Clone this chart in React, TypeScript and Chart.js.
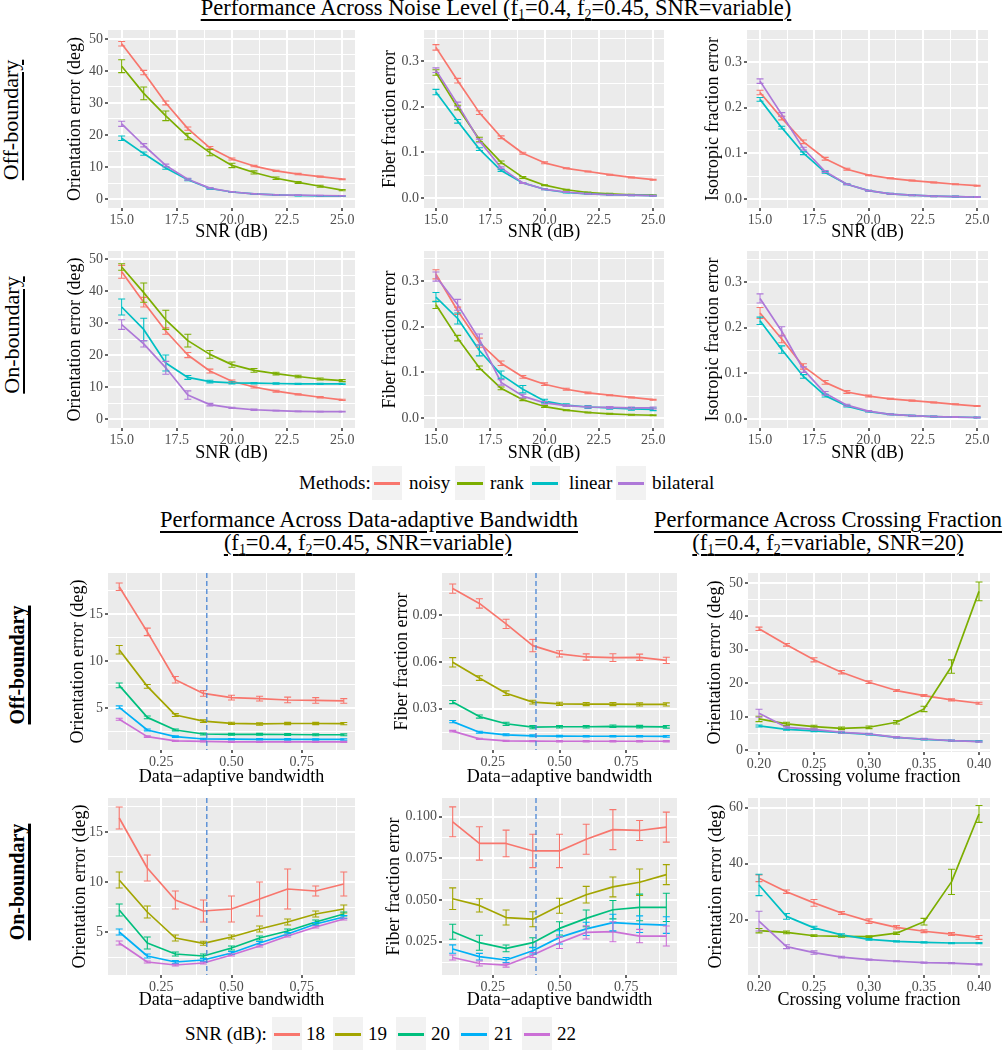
import React, { useEffect, useRef } from "react";
import { Chart, registerables } from "chart.js";
Chart.register(...registerables);

const SERIF = '"Liberation Serif", "DejaVu Serif", serif';

// ---------- x values ----------
const snrLevels = [15, 16, 17, 18, 19, 20, 21, 22, 23, 24, 25];
const bandwidths = [0.1, 0.2, 0.3, 0.4, 0.5, 0.6, 0.7, 0.8, 0.9];
const crossingFractions = [0.2, 0.225, 0.25, 0.275, 0.3, 0.325, 0.35, 0.375, 0.4];

// ---------- legends ----------
const methodNames = ["noisy", "rank", "linear", "bilateral"];
const methodColors = ["#F8766D", "#7CAE00", "#00BFC4", "#AE78D8"];
const snrNames = ["18", "19", "20", "21", "22"];
const snrColors = ["#F8766D", "#A3A500", "#00BF7D", "#00B0F6", "#CB6FD6"];
const bandwidthChoice = 0.412;

// ---------- tick breaks ----------
const snrMajor = [15, 17.5, 20, 22.5, 25];
const snrMinor = [16.25, 18.75, 21.25, 23.75];
const bwMajor = [0.25, 0.5, 0.75];
const bwMinor = [0.125, 0.375, 0.625, 0.875];
const cfMajor = [0.2, 0.25, 0.3, 0.35, 0.4];
const cfMinor = [0.225, 0.275, 0.325, 0.375];
const oriMajor = [0, 10, 20, 30, 40, 50];
const oriMinor = [5, 15, 25, 35, 45];
const fracMajor = [0, 0.1, 0.2, 0.3];
const fracMinor = [0.05, 0.15, 0.25, 0.35];
const bwOriMajor = [5, 10, 15];
const bwOriMinor = [2.5, 7.5, 12.5, 17.5];
const bwFibOffMajor = [0.03, 0.06, 0.09];
const bwFibOffMinor = [0.015, 0.045, 0.075, 0.105];
const bwFibOnMajor = [0.025, 0.05, 0.075, 0.1];
const bwFibOnMinor = [0.0125, 0.0375, 0.0625, 0.0875];
const cfOnMajor = [20, 40, 60];
const cfOnMinor = [10, 30, 50];

// ---------- Noise level: off-boundary ----------
const offOriNoisy = [48.5, 39.5, 30.0, 22.0, 16.0, 12.5, 10.3, 8.8, 7.8, 7.0, 6.2];
const offOriNoisyErr = [0.7, 0.7, 0.6, 0.5, 0.4, 0.3, 0.2, 0.2, 0.2, 0.15, 0.15];
const offOriRank = [41.5, 33.0, 26.0, 19.5, 14.5, 10.5, 8.3, 6.5, 5.2, 4.0, 2.8];
const offOriRankErr = [2.0, 2.0, 1.5, 1.0, 1.0, 0.7, 0.5, 0.4, 0.3, 0.3, 0.2];
const offOriLinear = [19.0, 14.2, 9.7, 6.0, 3.3, 2.2, 1.6, 1.3, 1.1, 1.0, 0.9];
const offOriLinearErr = [0.7, 0.5, 0.4, 0.3, 0.2, 0.1, 0.1, 0.1, 0.1, 0.1, 0.1];
const offOriBilateral = [23.5, 16.8, 10.5, 6.2, 3.4, 2.2, 1.6, 1.3, 1.2, 1.1, 1.0];
const offOriBilateralErr = [0.8, 0.5, 0.4, 0.3, 0.2, 0.1, 0.1, 0.1, 0.1, 0.1, 0.1];

const offFibNoisy = [0.33, 0.257, 0.187, 0.133, 0.098, 0.077, 0.065, 0.058, 0.051, 0.045, 0.04];
const offFibNoisyErr = [0.006, 0.005, 0.004, 0.003, 0.002, 0.002, 0.001, 0.001, 0.001, 0.001, 0.001];
const offFibRank = [0.275, 0.198, 0.128, 0.078, 0.045, 0.028, 0.018, 0.012, 0.009, 0.007, 0.006];
const offFibRankErr = [0.006, 0.005, 0.005, 0.003, 0.002, 0.001, 0.001, 0.001, 0.001, 0.001, 0.001];
const offFibLinear = [0.232, 0.168, 0.107, 0.06, 0.033, 0.019, 0.012, 0.009, 0.007, 0.006, 0.005];
const offFibLinearErr = [0.006, 0.004, 0.003, 0.002, 0.001, 0.001, 0.001, 0.001, 0.001, 0.001, 0.001];
const offFibBilateral = [0.28, 0.205, 0.125, 0.066, 0.033, 0.019, 0.013, 0.009, 0.007, 0.006, 0.005];
const offFibBilateralErr = [0.005, 0.005, 0.004, 0.002, 0.001, 0.001, 0.001, 0.001, 0.001, 0.001, 0.001];

const offIsoNoisy = [0.233, 0.177, 0.125, 0.088, 0.065, 0.052, 0.045, 0.04, 0.036, 0.032, 0.029];
const offIsoNoisyErr = [0.005, 0.004, 0.004, 0.003, 0.002, 0.001, 0.001, 0.001, 0.001, 0.001, 0.001];
const offIsoLinear = [0.218, 0.156, 0.1, 0.058, 0.032, 0.018, 0.011, 0.008, 0.006, 0.005, 0.004];
const offIsoLinearErr = [0.004, 0.003, 0.003, 0.002, 0.001, 0.001, 0.001, 0.001, 0.001, 0.001, 0.001];
const offIsoBilateral = [0.258, 0.185, 0.11, 0.06, 0.032, 0.018, 0.011, 0.008, 0.006, 0.005, 0.004];
const offIsoBilateralErr = [0.005, 0.004, 0.003, 0.002, 0.001, 0.001, 0.001, 0.001, 0.001, 0.001, 0.001];

// ---------- Noise level: on-boundary ----------
const onOriNoisy = [46.0, 36.5, 27.5, 20.0, 15.0, 11.8, 10.0, 8.7, 7.7, 6.8, 6.0];
const onOriNoisyErr = [2.0, 1.5, 1.0, 0.8, 0.6, 0.4, 0.3, 0.3, 0.2, 0.2, 0.2];
const onOriRank = [47.5, 39.5, 31.0, 24.5, 20.2, 17.0, 15.2, 14.2, 13.3, 12.5, 12.0];
const onOriRankErr = [1.0, 3.0, 3.0, 2.0, 1.2, 0.8, 0.6, 0.4, 0.4, 0.3, 0.3];
const onOriLinear = [35.0, 28.0, 17.5, 13.0, 11.7, 11.3, 11.2, 11.1, 11.0, 11.0, 11.0];
const onOriLinearErr = [2.5, 3.5, 2.5, 0.6, 0.4, 0.3, 0.2, 0.2, 0.2, 0.2, 0.2];
const onOriBilateral = [29.5, 23.5, 16.0, 7.5, 4.5, 3.5, 2.9, 2.6, 2.4, 2.3, 2.3];
const onOriBilateralErr = [1.5, 1.0, 2.0, 1.3, 0.4, 0.2, 0.2, 0.1, 0.1, 0.1, 0.1];

const onFibNoisy = [0.315, 0.235, 0.165, 0.12, 0.09, 0.074, 0.063, 0.055, 0.05, 0.045, 0.04];
const onFibNoisyErr = [0.01, 0.008, 0.01, 0.005, 0.003, 0.003, 0.002, 0.002, 0.001, 0.001, 0.001];
const onFibRank = [0.248, 0.175, 0.11, 0.065, 0.04, 0.025, 0.017, 0.012, 0.009, 0.007, 0.006];
const onFibRankErr = [0.008, 0.006, 0.004, 0.003, 0.002, 0.002, 0.001, 0.001, 0.001, 0.001, 0.001];
const onFibLinear = [0.265, 0.218, 0.148, 0.095, 0.063, 0.037, 0.028, 0.024, 0.022, 0.02, 0.019];
const onFibLinearErr = [0.01, 0.012, 0.012, 0.008, 0.008, 0.004, 0.003, 0.003, 0.003, 0.003, 0.003];
const onFibBilateral = [0.31, 0.248, 0.172, 0.078, 0.048, 0.033, 0.027, 0.024, 0.023, 0.022, 0.022];
const onFibBilateralErr = [0.01, 0.012, 0.012, 0.006, 0.004, 0.003, 0.002, 0.002, 0.002, 0.002, 0.002];

const onIsoNoisy = [0.232, 0.175, 0.115, 0.08, 0.059, 0.05, 0.044, 0.04, 0.036, 0.032, 0.028];
const onIsoNoisyErr = [0.012, 0.008, 0.006, 0.004, 0.003, 0.002, 0.001, 0.001, 0.001, 0.001, 0.001];
const onIsoLinear = [0.215, 0.152, 0.093, 0.051, 0.028, 0.016, 0.01, 0.007, 0.005, 0.004, 0.003];
const onIsoLinearErr = [0.008, 0.008, 0.004, 0.003, 0.002, 0.001, 0.001, 0.001, 0.001, 0.001, 0.001];
const onIsoBilateral = [0.264, 0.192, 0.108, 0.056, 0.03, 0.017, 0.01, 0.007, 0.005, 0.004, 0.003];
const onIsoBilateralErr = [0.01, 0.01, 0.006, 0.004, 0.002, 0.001, 0.001, 0.001, 0.001, 0.001, 0.001];

// ---------- Bandwidth: off-boundary ----------
const bwOffOri18 = [17.9, 13.1, 8.0, 6.55, 6.1, 6.0, 5.85, 5.8, 5.75];
const bwOffOri18Err = [0.4, 0.4, 0.35, 0.3, 0.25, 0.25, 0.3, 0.3, 0.25];
const bwOffOri19 = [11.2, 7.3, 4.25, 3.6, 3.37, 3.3, 3.35, 3.35, 3.33];
const bwOffOri19Err = [0.45, 0.2, 0.15, 0.15, 0.12, 0.12, 0.12, 0.12, 0.12];
const bwOffOri20 = [7.4, 4.0, 2.66, 2.23, 2.2, 2.2, 2.18, 2.15, 2.15];
const bwOffOri20Err = [0.25, 0.15, 0.1, 0.1, 0.1, 0.1, 0.1, 0.1, 0.1];
const bwOffOri21 = [5.07, 2.66, 1.95, 1.7, 1.68, 1.67, 1.66, 1.65, 1.65];
const bwOffOri21Err = [0.15, 0.1, 0.08, 0.08, 0.08, 0.08, 0.08, 0.08, 0.08];
const bwOffOri22 = [3.8, 1.95, 1.5, 1.45, 1.4, 1.4, 1.4, 1.4, 1.4];
const bwOffOri22Err = [0.1, 0.08, 0.06, 0.06, 0.06, 0.06, 0.06, 0.06, 0.06];

const bwOffFib18 = [0.107, 0.0975, 0.0844, 0.0705, 0.0652, 0.0632, 0.0628, 0.063, 0.061];
const bwOffFib18Err = [0.003, 0.003, 0.003, 0.004, 0.002, 0.002, 0.0025, 0.002, 0.002];
const bwOffFib19 = [0.0598, 0.0497, 0.04, 0.0343, 0.0332, 0.033, 0.033, 0.0328, 0.0328];
const bwOffFib19Err = [0.003, 0.0015, 0.0015, 0.0012, 0.001, 0.001, 0.001, 0.001, 0.001];
const bwOffFib20 = [0.0343, 0.025, 0.0204, 0.0182, 0.0185, 0.0185, 0.0188, 0.0186, 0.0184];
const bwOffFib20Err = [0.001, 0.001, 0.001, 0.001, 0.0008, 0.0008, 0.0008, 0.0008, 0.0008];
const bwOffFib21 = [0.0218, 0.015, 0.0133, 0.0127, 0.0125, 0.0124, 0.0124, 0.0124, 0.0123];
const bwOffFib21Err = [0.0007, 0.0006, 0.0006, 0.0006, 0.0005, 0.0005, 0.0005, 0.0005, 0.0005];
const bwOffFib22 = [0.0157, 0.0107, 0.0094, 0.0093, 0.0092, 0.0092, 0.0092, 0.0092, 0.0092];
const bwOffFib22Err = [0.0005, 0.0004, 0.0004, 0.0004, 0.0004, 0.0004, 0.0004, 0.0004, 0.0004];

// ---------- Bandwidth: on-boundary ----------
const bwOnOri18 = [16.4, 11.4, 8.2, 7.1, 7.3, 8.3, 9.3, 9.1, 9.8];
const bwOnOri18Err = [1.1, 1.3, 0.9, 1.1, 1.3, 1.7, 2.0, 0.5, 1.2];
const bwOnOri19 = [10.2, 7.0, 4.4, 3.87, 4.5, 5.3, 6.0, 6.8, 7.3];
const bwOnOri19Err = [0.8, 0.6, 0.3, 0.2, 0.2, 0.3, 0.3, 0.3, 0.4];
const bwOnOri20 = [7.2, 3.9, 2.8, 2.6, 3.4, 4.4, 5.1, 6.0, 6.8];
const bwOnOri20Err = [0.6, 0.6, 0.2, 0.2, 0.2, 0.2, 0.2, 0.2, 0.2];
const bwOnOri21 = [5.0, 2.6, 2.0, 2.2, 2.9, 3.9, 4.8, 5.8, 6.5];
const bwOnOri21Err = [0.3, 0.2, 0.15, 0.15, 0.15, 0.15, 0.15, 0.15, 0.15];
const bwOnOri22 = [3.9, 2.0, 1.7, 1.9, 2.7, 3.6, 4.6, 5.5, 6.3];
const bwOnOri22Err = [0.2, 0.1, 0.1, 0.1, 0.1, 0.1, 0.1, 0.1, 0.1];

const bwOnFib18 = [0.097, 0.084, 0.084, 0.0795, 0.0795, 0.0865, 0.0923, 0.0918, 0.0938];
const bwOnFib18Err = [0.009, 0.01, 0.008, 0.01, 0.01, 0.009, 0.012, 0.006, 0.009];
const bwOnFib19 = [0.0508, 0.0468, 0.0395, 0.0385, 0.0466, 0.0532, 0.0579, 0.0607, 0.0653];
const bwOnFib19Err = [0.0065, 0.004, 0.0045, 0.0045, 0.0045, 0.005, 0.006, 0.008, 0.006];
const bwOnFib20 = [0.031, 0.0244, 0.021, 0.0244, 0.033, 0.039, 0.0442, 0.0456, 0.0456];
const bwOnFib20Err = [0.0045, 0.0045, 0.002, 0.003, 0.004, 0.005, 0.0055, 0.008, 0.0085];
const bwOnFib21 = [0.0206, 0.016, 0.014, 0.0196, 0.0276, 0.0327, 0.0365, 0.0355, 0.035];
const bwOnFib21Err = [0.0025, 0.002, 0.0015, 0.002, 0.004, 0.004, 0.005, 0.005, 0.005];
const bwOnFib22 = [0.0155, 0.0119, 0.0109, 0.017, 0.0244, 0.0306, 0.031, 0.0284, 0.0284];
const bwOnFib22Err = [0.0015, 0.0015, 0.0012, 0.0015, 0.0035, 0.004, 0.006, 0.004, 0.006];

// ---------- Crossing fraction ----------
const cfOffNoisy = [36.3, 31.5, 27.0, 23.3, 20.3, 17.8, 16.3, 15.0, 14.0];
const cfOffNoisyErr = [0.5, 0.4, 0.6, 0.5, 0.4, 0.3, 0.3, 0.3, 0.3];
const cfOffRank = [9.3, 7.8, 7.0, 6.5, 6.8, 8.3, 12.3, 25.0, 47.5];
const cfOffRankErr = [0.8, 0.5, 0.4, 0.4, 0.4, 0.5, 0.8, 2.0, 2.8];
const cfOffLinear = [7.2, 6.2, 5.7, 5.2, 4.7, 3.8, 3.2, 2.8, 2.6];
const cfOffLinearErr = [0.3, 0.3, 0.2, 0.2, 0.2, 0.2, 0.2, 0.2, 0.2];
const cfOffBilateral = [11.0, 6.8, 6.2, 5.3, 4.8, 3.8, 3.3, 2.8, 2.5];
const cfOffBilateralErr = [1.2, 0.3, 0.3, 0.3, 0.2, 0.2, 0.2, 0.2, 0.2];

const cfOnNoisy = [34.8, 30.0, 26.0, 22.4, 19.5, 17.3, 15.9, 14.9, 13.7];
const cfOnNoisyErr = [1.2, 0.6, 1.2, 0.5, 0.8, 0.6, 0.5, 0.5, 0.7];
const cfOnRank = [16.1, 15.5, 14.3, 14.1, 14.0, 15.2, 19.3, 33.5, 57.7];
const cfOnRankErr = [0.8, 0.5, 0.3, 0.3, 0.3, 0.4, 1.2, 4.5, 3.0];
const cfOnLinear = [32.4, 21.2, 17.1, 14.6, 13.0, 12.3, 11.9, 11.7, 11.7];
const cfOnLinearErr = [3.8, 1.0, 0.6, 0.4, 0.3, 0.2, 0.2, 0.2, 0.2];
const cfOnBilateral = [19.5, 10.4, 8.3, 6.7, 5.8, 5.2, 4.7, 4.5, 4.1];
const cfOnBilateralErr = [3.5, 0.7, 0.6, 0.3, 0.2, 0.2, 0.2, 0.2, 0.2];

// ---------- layout helpers ----------
type Series = { color: string; values: number[]; errs: number[] };
type PanelSpec = {
  gx1: number; gx2: number; gy1: number; gy2: number;
  yTitleX: number; xTitleY: number;
  xs: number[]; series: Series[];
  xMin: number; xMax: number; xMajor: number[]; xMinor: number[]; xFmt: (v: number) => string;
  yMin: number; yMax: number; yMajor: number[]; yMinor: number[]; yFmt: (v: number) => string;
  xTitle: string; yTitle: string; vline?: number;
};

const ser = (colors: string[], vals: number[][], errs: number[][]): Series[] =>
  vals.map((v, i) => ({ color: colors[i], values: v, errs: errs[i] }));
const mAll = methodColors;
const mIso = [methodColors[0], methodColors[2], methodColors[3]];

const f0 = (v: number) => v.toFixed(0);
const f1 = (v: number) => v.toFixed(1);
const f2 = (v: number) => v.toFixed(2);
const f3 = (v: number) => v.toFixed(3);

const ORI = "Orientation error (deg)";
const FIB = "Fiber fraction error";
const ISO = "Isotropic fraction error";
const SNRT = "SNR (dB)";
const BWT = "Data\u2212adaptive bandwidth";
const CFT = "Crossing volume fraction";

const topSnrX = { xs: snrLevels, xMajor: snrMajor, xMinor: snrMinor, xFmt: f1, xTitle: SNRT };
const bwX = { xs: bandwidths, xMin: 0.06, xMax: 0.94, xMajor: bwMajor, xMinor: bwMinor, xFmt: f2, xTitle: BWT, vline: bandwidthChoice };
const cfX = { xs: crossingFractions, xMin: 0.19, xMax: 0.41, xMajor: cfMajor, xMinor: cfMinor, xFmt: f2, xTitle: CFT };

const panels: PanelSpec[] = [
  // Row 1 (noise, off-boundary)
  { ...topSnrX, gx1: 108, gx2: 355, gy1: 30, gy2: 208, yTitleX: 75, xTitleY: 232, xMin: 14.38, xMax: 25.58,
    yMin: -2.8, yMax: 52.8, yMajor: oriMajor, yMinor: oriMinor, yFmt: f0, yTitle: ORI,
    series: ser(mAll, [offOriNoisy, offOriRank, offOriLinear, offOriBilateral], [offOriNoisyErr, offOriRankErr, offOriLinearErr, offOriBilateralErr]) },
  { ...topSnrX, gx1: 424, gx2: 664, gy1: 30, gy2: 208, yTitleX: 390, xTitleY: 232, xMin: 14.45, xMax: 25.5,
    yMin: -0.022, yMax: 0.368, yMajor: fracMajor, yMinor: fracMinor, yFmt: f1, yTitle: FIB,
    series: ser(mAll, [offFibNoisy, offFibRank, offFibLinear, offFibBilateral], [offFibNoisyErr, offFibRankErr, offFibLinearErr, offFibBilateralErr]) },
  { ...topSnrX, gx1: 747, gx2: 988, gy1: 30, gy2: 208, yTitleX: 713, xTitleY: 232, xMin: 14.4, xMax: 25.5,
    yMin: -0.02, yMax: 0.37, yMajor: fracMajor, yMinor: fracMinor, yFmt: f1, yTitle: ISO,
    series: ser(mIso, [offIsoNoisy, offIsoLinear, offIsoBilateral], [offIsoNoisyErr, offIsoLinearErr, offIsoBilateralErr]) },
  // Row 2 (noise, on-boundary)
  { ...topSnrX, gx1: 108, gx2: 355, gy1: 251, gy2: 428, yTitleX: 75, xTitleY: 453, xMin: 14.38, xMax: 25.58,
    yMin: -2.8, yMax: 52.5, yMajor: oriMajor, yMinor: oriMinor, yFmt: f0, yTitle: ORI,
    series: ser(mAll, [onOriNoisy, onOriRank, onOriLinear, onOriBilateral], [onOriNoisyErr, onOriRankErr, onOriLinearErr, onOriBilateralErr]) },
  { ...topSnrX, gx1: 424, gx2: 664, gy1: 251, gy2: 428, yTitleX: 390, xTitleY: 453, xMin: 14.45, xMax: 25.5,
    yMin: -0.022, yMax: 0.366, yMajor: fracMajor, yMinor: fracMinor, yFmt: f1, yTitle: FIB,
    series: ser(mAll, [onFibNoisy, onFibRank, onFibLinear, onFibBilateral], [onFibNoisyErr, onFibRankErr, onFibLinearErr, onFibBilateralErr]) },
  { ...topSnrX, gx1: 747, gx2: 988, gy1: 251, gy2: 428, yTitleX: 713, xTitleY: 453, xMin: 14.4, xMax: 25.5,
    yMin: -0.02, yMax: 0.368, yMajor: fracMajor, yMinor: fracMinor, yFmt: f1, yTitle: ISO,
    series: ser(mIso, [onIsoNoisy, onIsoLinear, onIsoBilateral], [onIsoNoisyErr, onIsoLinearErr, onIsoBilateralErr]) },
  // Row 3 (bandwidth / crossing, off-boundary)
  { ...bwX, gx1: 108, gx2: 355, gy1: 573, gy2: 750, yTitleX: 78, xTitleY: 777,
    yMin: 0.53, yMax: 19.36, yMajor: bwOriMajor, yMinor: bwOriMinor, yFmt: f0, yTitle: ORI,
    series: ser(snrColors, [bwOffOri18, bwOffOri19, bwOffOri20, bwOffOri21, bwOffOri22], [bwOffOri18Err, bwOffOri19Err, bwOffOri20Err, bwOffOri21Err, bwOffOri22Err]) },
  { ...bwX, gx1: 442, gx2: 677, gy1: 573, gy2: 750, yTitleX: 402, xTitleY: 777,
    yMin: 0.0036, yMax: 0.117, yMajor: bwFibOffMajor, yMinor: bwFibOffMinor, yFmt: f2, yTitle: FIB,
    series: ser(snrColors, [bwOffFib18, bwOffFib19, bwOffFib20, bwOffFib21, bwOffFib22], [bwOffFib18Err, bwOffFib19Err, bwOffFib20Err, bwOffFib21Err, bwOffFib22Err]) },
  { ...cfX, gx1: 748, gx2: 990, gy1: 573, gy2: 752, yTitleX: 715, xTitleY: 777,
    yMin: -0.6, yMax: 53, yMajor: oriMajor, yMinor: oriMinor, yFmt: f0, yTitle: ORI,
    series: ser(mAll, [cfOffNoisy, cfOffRank, cfOffLinear, cfOffBilateral], [cfOffNoisyErr, cfOffRankErr, cfOffLinearErr, cfOffBilateralErr]) },
  // Row 4 (bandwidth / crossing, on-boundary)
  { ...bwX, gx1: 108, gx2: 355, gy1: 798, gy2: 975, yTitleX: 80, xTitleY: 1000,
    yMin: 0.7, yMax: 18.4, yMajor: bwOriMajor, yMinor: bwOriMinor, yFmt: f0, yTitle: ORI,
    series: ser(snrColors, [bwOnOri18, bwOnOri19, bwOnOri20, bwOnOri21, bwOnOri22], [bwOnOri18Err, bwOnOri19Err, bwOnOri20Err, bwOnOri21Err, bwOnOri22Err]) },
  { ...bwX, gx1: 442, gx2: 677, gy1: 798, gy2: 975, yTitleX: 394, xTitleY: 1000,
    yMin: 0.005, yMax: 0.1113, yMajor: bwFibOnMajor, yMinor: bwFibOnMinor, yFmt: f3, yTitle: FIB,
    series: ser(snrColors, [bwOnFib18, bwOnFib19, bwOnFib20, bwOnFib21, bwOnFib22], [bwOnFib18Err, bwOnFib19Err, bwOnFib20Err, bwOnFib21Err, bwOnFib22Err]) },
  { ...cfX, gx1: 748, gx2: 990, gy1: 798, gy2: 975, yTitleX: 716, xTitleY: 1000,
    yMin: 0.3, yMax: 63.4, yMajor: cfOnMajor, yMinor: cfOnMinor, yFmt: f0, yTitle: ORI,
    series: ser(mAll, [cfOnNoisy, cfOnRank, cfOnLinear, cfOnBilateral], [cfOnNoisyErr, cfOnRankErr, cfOnLinearErr, cfOnBilateralErr]) },
];

// ---------- Chart.js plugins ----------
const bgPlugin = {
  id: "panelBg",
  beforeDraw(chart: any) {
    const { ctx, chartArea: a } = chart;
    ctx.save();
    ctx.fillStyle = "#EBEBEB";
    ctx.fillRect(a.left, a.top, a.right - a.left, a.bottom - a.top);
    ctx.restore();
  },
};

const errPlugin = {
  id: "errBars",
  afterDatasetsDraw(chart: any) {
    const { ctx, chartArea: a } = chart;
    const xs = chart.scales.x;
    const ys = chart.scales.y;
    const cap = 3.5;
    ctx.save();
    ctx.beginPath();
    ctx.rect(a.left, a.top, a.right - a.left, a.bottom - a.top);
    ctx.clip();
    chart.data.datasets.forEach((ds: any) => {
      if (!ds.errs) return;
      ctx.strokeStyle = ds.borderColor;
      ctx.lineWidth = 1.1;
      ds.data.forEach((p: any, i: number) => {
        const e = ds.errs[i];
        if (e == null) return;
        const px = xs.getPixelForValue(p.x);
        const y1 = ys.getPixelForValue(p.y - e);
        const y2 = ys.getPixelForValue(p.y + e);
        ctx.beginPath();
        ctx.moveTo(px, y1); ctx.lineTo(px, y2);
        ctx.moveTo(px - cap, y1); ctx.lineTo(px + cap, y1);
        ctx.moveTo(px - cap, y2); ctx.lineTo(px + cap, y2);
        ctx.stroke();
      });
    });
    ctx.restore();
  },
};

const vlinePlugin = {
  id: "vline",
  afterDatasetsDraw(chart: any, _args: any, opts: any) {
    if (opts == null || opts.value == null) return;
    const { ctx, chartArea: a } = chart;
    const px = chart.scales.x.getPixelForValue(opts.value);
    ctx.save();
    ctx.strokeStyle = "#4A86D4";
    ctx.lineWidth = 1.3;
    ctx.setLineDash([5, 3]);
    ctx.beginPath();
    ctx.moveTo(px, a.top);
    ctx.lineTo(px, a.bottom);
    ctx.stroke();
    ctx.restore();
  },
};

const PADT = 12;
const PADR = 14;
const TITLE_SIZE = 18;
const TICK_SIZE = 14;
const LH = TITLE_SIZE * 1.2;

function axis(kind: "x" | "y", min: number, max: number, major: number[], minor: number[], fmt: (v: number) => string, title: string, size: number) {
  const isMajor = (v: any) => typeof v === "number" && major.some((m) => Math.abs(m - v) < 1e-9);
  const all = [...major, ...minor].filter((v) => v >= min && v <= max).sort((a, b) => a - b);
  return {
    type: "linear",
    position: kind === "x" ? "bottom" : "left",
    min,
    max,
    afterBuildTicks: (s: any) => {
      s.ticks = all.map((v) => ({ value: v }));
    },
    afterFit: (s: any) => {
      if (kind === "x") s.height = size;
      else s.width = size;
    },
    grid: {
      color: "#FFFFFF",
      lineWidth: (c: any) => (isMajor(c.tick && c.tick.value) ? 2 : 1),
      tickColor: (c: any) => (isMajor(c.tick && c.tick.value) ? "#333333" : "rgba(0,0,0,0)"),
      tickLength: 3,
      tickWidth: 1.5,
      drawTicks: true,
    },
    border: { display: false },
    ticks: {
      autoSkip: false,
      maxRotation: 0,
      padding: kind === "x" ? 1 : 2,
      color: "#4D4D4D",
      font: { family: SERIF, size: TICK_SIZE },
      callback: (v: any) => (isMajor(v) ? fmt(v) : ""),
    },
    title: {
      display: true,
      text: title,
      color: "#000000",
      font: { family: SERIF, size: TITLE_SIZE },
      padding: 0,
    },
  };
}

function Panel({ spec }: { spec: PanelSpec }) {
  const ref = useRef<HTMLCanvasElement>(null);
  const left = Math.round(spec.yTitleX - LH / 2);
  const top = spec.gy1 - PADT;
  const width = spec.gx2 + PADR - left;
  const bottom = Math.round(spec.xTitleY + LH / 2);
  const height = bottom - top;
  useEffect(() => {
    const canvas = ref.current;
    if (!canvas) return;
    const chart = new Chart(canvas, {
      type: "line",
      data: {
        datasets: spec.series.map((s, i) => ({
          data: spec.xs.map((x, j) => ({ x, y: s.values[j] })),
          borderColor: s.color,
          backgroundColor: s.color,
          borderWidth: 1.7,
          pointRadius: 0,
          tension: 0,
          fill: false,
          order: -i,
          borderJoinStyle: "round",
          errs: s.errs,
        })) as any,
      },
      options: {
        responsive: false,
        animation: false,
        devicePixelRatio: 1,
        layout: { padding: { left: 0, top: PADT, right: PADR, bottom: 0 } },
        plugins: {
          legend: { display: false },
          tooltip: { enabled: false },
          vline: spec.vline != null ? { value: spec.vline } : { value: null },
        } as any,
        scales: {
          x: axis("x", spec.xMin, spec.xMax, spec.xMajor, spec.xMinor, spec.xFmt, spec.xTitle, bottom - spec.gy2) as any,
          y: axis("y", spec.yMin, spec.yMax, spec.yMajor, spec.yMinor, spec.yFmt, spec.yTitle, spec.gx1 - left) as any,
        },
      },
      plugins: [bgPlugin, errPlugin, vlinePlugin],
    });
    let alive = true;
    const fontsApi = (document as any).fonts;
    if (fontsApi && fontsApi.load) {
      Promise.all([
        fontsApi.load(`${TICK_SIZE}px "Liberation Serif"`),
        fontsApi.load(`${TITLE_SIZE}px "Liberation Serif"`),
      ]).then(() => {
        if (alive) chart.update();
      }).catch(() => {});
    }
    return () => {
      alive = false;
      chart.destroy();
    };
  }, []);
  return (
    <canvas
      ref={ref}
      width={width}
      height={height}
      style={{ position: "absolute", left, top, width, height }}
    />
  );
}

const subStyle: React.CSSProperties = { fontSize: "0.62em", verticalAlign: "-0.3em", lineHeight: 0 };

function Heading({ cx, baseline, size, children }: { cx: number; baseline: number; size: number; children: React.ReactNode }) {
  const w = 900;
  return (
    <div
      style={{
        position: "absolute",
        left: cx - w / 2,
        width: w,
        top: baseline - 0.8375 * size,
        textAlign: "center",
        fontFamily: SERIF,
        fontSize: size,
        lineHeight: `${size}px`,
        whiteSpace: "nowrap",
        color: "#000",
        textDecoration: "underline",
        textDecorationThickness: "2px",
        textUnderlineOffset: "4px",
      }}
    >
      {children}
    </div>
  );
}

function RowLabel({ text, cx, cy, size, bold }: { text: string; cx: number; cy: number; size: number; bold?: boolean }) {
  return (
    <div
      style={{
        position: "absolute",
        left: cx,
        top: cy,
        transform: "translate(-50%, -50%) rotate(-90deg)",
        whiteSpace: "nowrap",
        fontFamily: SERIF,
        fontSize: size,
        fontWeight: bold ? 700 : 400,
        lineHeight: `${size}px`,
        color: "#000",
        textDecoration: "underline",
        textDecorationThickness: bold ? "3px" : "2px",
        textUnderlineOffset: "4px",
      }}
    >
      {text}
    </div>
  );
}

function LegendRow({ title, titleLeft, cy, names, colors, boxLefts, labelLefts }: {
  title: string; titleLeft: number; cy: number; names: string[]; colors: string[]; boxLefts: number[]; labelLefts: number[];
}) {
  const txt = (left: number, s: string, key: string) => (
    <div key={key} style={{ position: "absolute", left, top: cy - 11, lineHeight: "22px", fontFamily: SERIF, fontSize: 19, color: "#000", whiteSpace: "nowrap" }}>{s}</div>
  );
  return (
    <>
      {txt(titleLeft, title, "t")}
      {names.map((n, i) => (
        <React.Fragment key={n}>
          <div style={{ position: "absolute", left: boxLefts[i], top: cy - 17, width: 30, height: 34, background: "#F2F2F2" }}>
            <div style={{ position: "absolute", left: 2, right: 2, top: 15.5, height: 3, background: colors[i] }} />
          </div>
          {txt(labelLefts[i], n, "l" + i)}
        </React.Fragment>
      ))}
    </>
  );
}

export default function App() {
  return (
    <div style={{ position: "absolute", left: 0, top: 0, width: 1003, height: 1050, background: "#FFFFFF", overflow: "hidden" }}>
      <Heading cx={496} baseline={16} size={22.5}>
        Performance Across Noise Level (f<sub style={subStyle}>1</sub>=0.4, f<sub style={subStyle}>2</sub>=0.45, SNR=variable)
      </Heading>
      <Heading cx={369} baseline={528} size={22.5}>Performance Across Data-adaptive Bandwidth</Heading>
      <Heading cx={368} baseline={551} size={22.5}>
        (f<sub style={subStyle}>1</sub>=0.4, f<sub style={subStyle}>2</sub>=0.45, SNR=variable)
      </Heading>
      <Heading cx={828} baseline={528} size={22.5}>Performance Across Crossing Fraction</Heading>
      <Heading cx={828} baseline={551} size={22.5}>
        (f<sub style={subStyle}>1</sub>=0.4, f<sub style={subStyle}>2</sub>=variable, SNR=20)
      </Heading>

      <RowLabel text="Off-boundary" cx={11} cy={120} size={22} />
      <RowLabel text="On-boundary" cx={12} cy={335} size={22} />
      <RowLabel text="Off-boundary" cx={17} cy={665} size={20} bold />
      <RowLabel text="On-boundary" cx={17} cy={882} size={20} bold />

      {panels.map((p, i) => (
        <Panel key={i} spec={p} />
      ))}

      <LegendRow
        title="Methods:"
        titleLeft={299}
        cy={483}
        names={methodNames}
        colors={methodColors}
        boxLefts={[372, 455, 530, 616]}
        labelLefts={[409, 490, 569, 652]}
      />
      <LegendRow
        title="SNR (dB):"
        titleLeft={185}
        cy={1034}
        names={snrNames}
        colors={snrColors}
        boxLefts={[272, 333, 396, 459, 522]}
        labelLefts={[306, 368, 431, 494, 557]}
      />
    </div>
  );
}
